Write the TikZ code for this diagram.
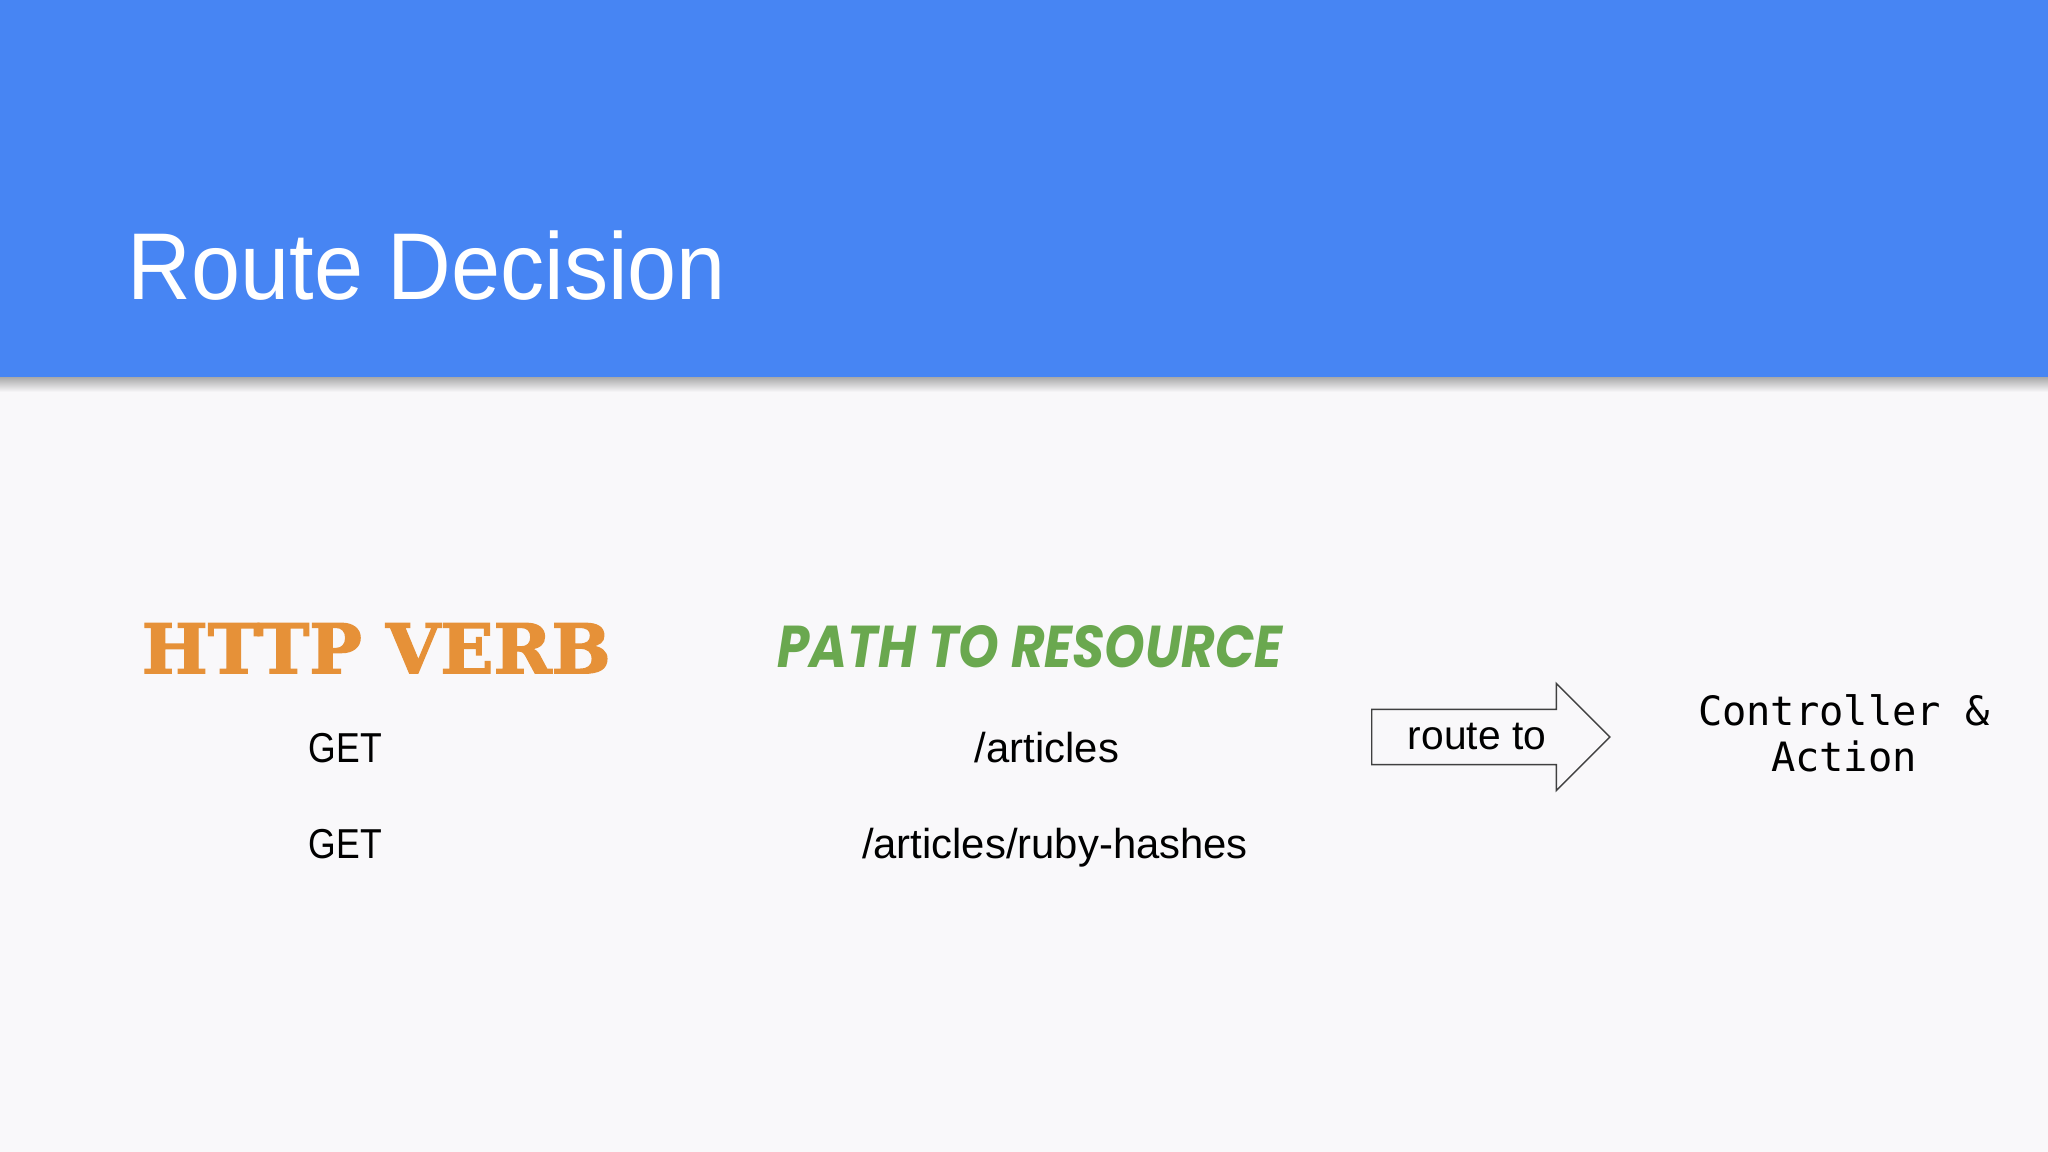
\documentclass[tikz,border=0pt]{standalone}
\usepackage{fontspec}
\usepackage{graphicx}
\usetikzlibrary{shapes.arrows}
\setmainfont{Liberation Sans}
\newfontfamily\titlefont[FakeStretch=0.93]{Liberation Sans}
\newfontfamily\verbnamefont[FakeStretch=0.85]{Liberation Sans}
\newfontfamily\codefont{DejaVu Sans Mono}
\newfontfamily\verbfont[BoldFeatures={FakeBold=2}]{DejaVu Serif}
\newfontfamily\pathfont{Poppins}
\definecolor{header colour}{HTML}{4785F3}
\definecolor{slide colour}{HTML}{F9F8FA}
\definecolor{verb colour}{HTML}{E69138}
\definecolor{path colour}{HTML}{6AA84F}
\colorlet{outline colour}{black!75}
\tikzset{
    % Plain slide text, roughly body size
    plain text/.style={inner sep=0, text=black, font=\fontsize{11.9}{14}\selectfont},
    % The two coloured column headings
    heading/.style={inner sep=0, anchor=south west},
}

\begin{document}
\begin{tikzpicture}[
    route arrow/.style={
        draw=outline colour, thin, fill=slide colour, single arrow,
        single arrow head extend=0.26cm,
        inner xsep=0.355cm, inner ysep=0.135cm,
        font=\fontsize{11.6}{14}\selectfont},
    ]

% slide background and title bar
\fill [slide colour] (0,0) rectangle (20.48,-11.52);
\shade [top color=black!40, bottom color=slide colour] (0,-3.74) rectangle (20.48,-3.92);
\fill [header colour] (0,0) rectangle (20.48,-3.77);

\path (1.27,-3.00) node (title) [
    anchor=base west, inner sep=0, text=white,
    font=\titlefont\fontsize{27}{30}\selectfont] {Route Decision};

\path
    (1.41,-6.74) node (verb) [heading, text=verb colour]
        {\resizebox{4.69cm}{0.50cm}{\verbfont\bfseries HTTP VERB}}
    (7.77,-6.69) node (path) [heading, text=path colour]
        {\resizebox{5.05cm}{0.42cm}{\pathfont\bfseries\itshape PATH TO RESOURCE}};

\path
    (3.08,-7.63) node (get1) [plain text, anchor=base west] {\verbnamefont GET}
    (3.08,-8.58) node (get2) [plain text, anchor=base west] {\verbnamefont GET}
    (10.47,-7.63) node (articles) [plain text, anchor=base] {/articles}
    (10.55,-8.58) node (hashes) [plain text, anchor=base] {/articles/ruby-hashes};

\path (13.71,-7.37) node (route) [route arrow, anchor=tail] {route to};

\path (18.44,-7.335) node (action) [
    align=center, inner sep=0,
    font=\codefont\fontsize{11.5}{13.1}\selectfont] {Controller \&\\Action};

\end{tikzpicture}
\end{document}
